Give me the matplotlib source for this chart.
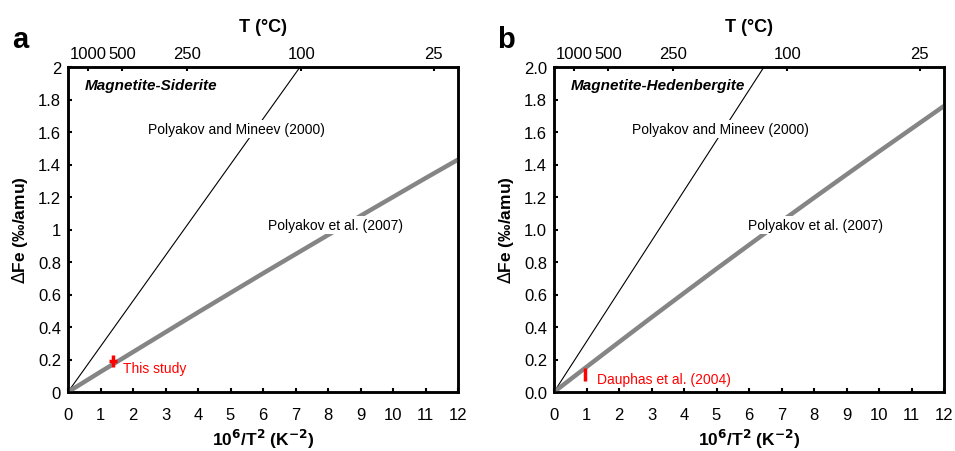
import matplotlib.pyplot as plt
import numpy as np

plt.rcParams['font.family'] = ['Liberation Sans', 'DejaVu Sans']

# x axis values: 10^6/T^2
x_vals = [0, 1, 2, 3, 4, 5, 6, 7, 8, 9, 10, 11, 12]

# Polyakov et al. (2007) curves
sid_2007 = [0, 0.124, 0.246, 0.368, 0.490, 0.610, 0.730, 0.848, 0.966, 1.084, 1.200, 1.316, 1.430]
hed_2007 = [0, 0.154, 0.307, 0.459, 0.609, 0.758, 0.905, 1.051, 1.195, 1.338, 1.480, 1.620, 1.760]

# Polyakov and Mineev (2000) straight lines (end points)
sid_2000_x = [0, 7.14]
sid_2000_y = [0, 2.0]
hed_2000_x = [0, 6.46]
hed_2000_y = [0, 2.0]

# measured points
this_study = (1.39, 0.19, 0.12, 0.035)   # x, y, xerr, yerr
dauphas = (0.95, 0.105, 0.0, 0.04)

top_T = [1000, 500, 250, 100, 25]

fig = plt.figure(figsize=(9.55, 4.52), dpi=100)
ax1 = fig.add_axes([68/955, 59/452, 390/955, 325/452])
ax2 = fig.add_axes([554/955, 59/452, 390/955, 325/452])

def setup(ax, curve, bx, by, title, pt, pt_label, pt_lab_xy, ylabels):
    ax.plot(bx, by, color='black', lw=0.8, zorder=2)
    ax.plot(x_vals, curve, color='#858585', lw=3.2, zorder=3, solid_capstyle='butt')
    ax.errorbar(pt[0], pt[1], xerr=pt[2] if pt[2] else None, yerr=pt[3],
                fmt='none', ecolor='red', elinewidth=2.5, capsize=0, zorder=5)
    ax.text(pt_lab_xy[0], pt_lab_xy[1], pt_label, color='red', fontsize=10, va='center')
    ax.text(0.52, 1.89, title, fontsize=11, fontweight='bold', fontstyle='italic', va='center')
    ax.set_xlim(0, 12)
    ax.set_ylim(0, 2)
    ax.set_xticks(range(13))
    ax.set_yticks(np.arange(0, 2.01, 0.2))
    ax.set_yticklabels(ylabels)
    ax.tick_params(direction='in', length=3, width=1.5, labelsize=12, pad=5)
    ax.tick_params(axis='x', pad=11)
    for s in ax.spines.values():
        s.set_linewidth(1.8)
    ax.set_xlabel('10$^\\mathbf{6}$/T$^\\mathbf{2}$ (K$^\\mathbf{-2}$)', fontsize=12.5, fontweight='bold', labelpad=3)
    ax.set_ylabel('$\\Delta$Fe (‰/amu)', fontsize=12.5, fontweight='bold', labelpad=6)

    top = ax.twiny()
    top.set_xlim(0, 12)
    top.set_xticks([1e6 / (t + 273.15) ** 2 for t in top_T])
    top.set_xticklabels([str(t) for t in top_T])
    top.tick_params(direction='in', length=3, width=1.5, labelsize=12, pad=4)
    top.set_xlabel('T (°C)', fontsize=13, fontweight='bold', labelpad=11)
    for s in top.spines.values():
        s.set_linewidth(1.8)
    return ax

lab_a = ['0', '0.2', '0.4', '0.6', '0.8', '1', '1.2', '1.4', '1.6', '1.8', '2']
lab_b = ['%.1f' % v for v in np.arange(0, 2.01, 0.2)]

setup(ax1, sid_2007, sid_2000_x, sid_2000_y, 'Magnetite-Siderite',
      this_study, 'This study', (1.69, 0.148), lab_a)
setup(ax2, hed_2007, hed_2000_x, hed_2000_y, 'Magnetite-Hedenbergite',
      dauphas, 'Dauphas et al. (2004)', (1.32, 0.08), lab_b)

box = dict(facecolor='white', edgecolor='none', pad=1.5)
ax1.text(5.17, 1.62, 'Polyakov and Mineev (2000)', fontsize=10, ha='center', va='center', bbox=box, zorder=4)
ax1.text(8.22, 1.03, 'Polyakov et al. (2007)', fontsize=10, ha='center', va='center', bbox=box, zorder=4)
ax2.text(5.13, 1.62, 'Polyakov and Mineev (2000)', fontsize=10, ha='center', va='center', bbox=box, zorder=4)
ax2.text(8.05, 1.03, 'Polyakov et al. (2007)', fontsize=10, ha='center', va='center', bbox=box, zorder=4)

fig.text(12/955, 1 - 40/452, 'a', fontsize=21, fontweight='bold', va='center')
fig.text(497/955, 1 - 40/452, 'b', fontsize=21, fontweight='bold', va='center')

fig.savefig('out.png', dpi=100)
